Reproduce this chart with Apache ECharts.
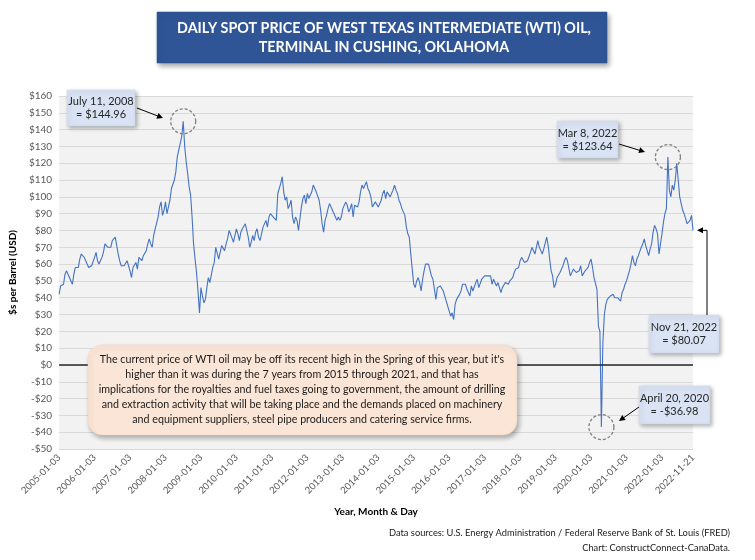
<!DOCTYPE html>
<html>
<head>
<meta charset="utf-8">
<script src="https://cdn.jsdelivr.net/npm/echarts@6/dist/echarts.min.js"></script>
<style>
  html, body { margin: 0; padding: 0; background: #ffffff; }
  #chart { width: 755px; height: 560px; }
</style>
</head>
<body>
<div id="chart"></div>
<script>
// ---- Data: semi-monthly WTI spot readings (USD/bbl), two per month ----
const wti2005 = [42,47, 47,48, 54,56, 57,52, 50,48, 54,58, 59,58, 63,66, 67,64, 62,62, 58,57, 59,60];
const wti2006 = [64,67, 62,60, 62,64, 67,72, 72,70, 71,70, 74,75, 76,71, 66,62, 59,58, 59,59, 62,62];
const wti2007 = [56,52, 58,59, 61,57, 64,63, 62,65, 66,68, 72,75, 72,70, 77,81, 80,88, 94,97, 89,92];
const wti2008 = [97,90, 89,98, 105,104, 110,115, 124,128, 132,136, 144.96,130, 121,114, 106,101, 88,72, 63,55, 44,31];
const wti2009 = [46,41, 37,39, 46,52, 49,49, 58,61, 70,70, 63,62, 71,72, 68,72, 75,80, 78,78, 73,74];
const wti2010 = [81,78, 74,79, 81,82, 84,85, 76,70, 73,77, 74,79, 81,76, 74,75, 82,81, 86,82, 88,90];
const wti2011 = [91,88, 87,86, 102,101, 108,112, 103,98, 100,93, 95,98, 88,84, 88,86, 80,87, 94,99, 101,96];
const wti2012 = [102,99, 98,103, 107,106, 103,104, 98,92, 84,79, 86,89, 93,96, 97,92, 91,88, 86,88, 86,88];
const wti2013 = [93,95, 97,95, 91,93, 96,88, 95,94, 94,97, 103,107, 105,107, 109,105, 103,100, 94,94, 97,98];
const wti2014 = [94,94, 98,102, 104,99, 103,104, 100,102, 104,107, 104,102, 98,96, 93,94, 89,82, 78,76, 66,57];
const wti2015 = [48,46, 50,52, 49,44, 51,56, 60,59, 60,60, 53,51, 45,39, 46,45, 47,46, 44,41, 38,35];
const wti2016 = [34,29, 31,27, 36,39, 38,42, 44,48, 49,48, 45,45, 41,47, 44,43, 49,51, 46,45, 51,52];
const wti2017 = [53,52, 53,54, 53,48, 51,52, 47,49, 46,43, 46,47, 49,48, 48,50, 50,52, 55,57, 57,58];
const wti2018 = [62,64, 64,61, 61,62, 63,67, 70,71, 66,66, 74,70, 68,66, 69,70, 76,71, 63,56, 53,46];
const wti2019 = [48,52, 53,55, 56,59, 62,64, 62,62, 53,52, 57,56, 55,55, 56,59, 53,54, 56,57, 58,61];
const wti2020 = [63,58, 52,52, 45,23, 20,-36.98, 13,30, 36,39, 40,41, 41,42, 40,41, 40,40, 38,43, 45,48];
const wti2021 = [50,53, 56,60, 65,61, 59,63, 65,66, 70,72, 75,71, 68,65, 69,72, 79,83, 81,78, 66,72];
const wti2022 = [78,85, 90,93, 123.64,104, 100,107, 104,110, 120,110, 100,96, 92,90, 87,84, 83,86, 89,80.07];

const firstYear = 2005;
const lastYear = 2022;
const lastMonth = 11;
const halfDays = ['03', '17'];
// actual dates for the annotated readings
const specialDates = {
  '2008-07-03': '2008-07-11',
  '2020-04-17': '2020-04-20',
  '2022-03-03': '2022-03-08',
  '2022-11-17': '2022-11-21'
};

const yTickMin = -50, yTickMax = 160, yTickStep = 10;

// ---- Build categories / values ----
const categories = [];
for (let y = firstYear; y <= lastYear; y++) {
  const mMax = (y === lastYear) ? lastMonth : 12;
  for (let m = 1; m <= mMax; m++) {
    halfDays.forEach(d => {
      let s = y + '-' + String(m).padStart(2, '0') + '-' + d;
      if (specialDates[s]) s = specialDates[s];
      categories.push(s);
    });
  }
}
const values = [].concat(wti2005, wti2006, wti2007, wti2008, wti2009, wti2010, wti2011, wti2012,
  wti2013, wti2014, wti2015, wti2016, wti2017, wti2018, wti2019, wti2020, wti2021, wti2022);
const lastIdx = categories.length - 1;

const FONT = 'Lato, "Open Sans", sans-serif';
const chart = echarts.init(document.getElementById('chart'), null, { renderer: 'canvas' });

chart.setOption({
  backgroundColor: '#ffffff',
  animation: false,
  grid: {
    left: 57, right: 62, top: 96, bottom: 111,
    show: true, backgroundColor: '#f2f2f2', borderWidth: 0
  },
  xAxis: {
    type: 'category',
    data: categories,
    boundaryGap: false,
    axisLine: { show: false },
    axisTick: { show: false },
    splitLine: { show: false },
    axisLabel: {
      rotate: 45,
      fontSize: 9.5,
      color: '#595959',
      fontFamily: FONT,
      margin: 7,
      interval: (i, v) => v.endsWith('-01-03') || i === lastIdx
    },
    name: 'Year, Month & Day',
    nameLocation: 'middle',
    nameGap: 58,
    nameTextStyle: { fontSize: 10, fontWeight: 'bold', color: '#000', fontFamily: FONT }
  },
  yAxis: {
    type: 'value',
    min: yTickMin, max: yTickMax, interval: yTickStep,
    axisLine: { show: false },
    axisTick: { show: false },
    splitLine: { lineStyle: { color: '#d9d9d9', width: 1 } },
    axisLabel: {
      fontSize: 10, color: '#595959', fontFamily: FONT, margin: 7,
      formatter: v => (v < 0 ? '-$' + (-v) : '$' + v)
    },
    name: '$s per Barrel (USD)',
    nameLocation: 'middle',
    nameRotate: 90,
    nameGap: 32,
    nameTextStyle: { fontSize: 10, fontWeight: 'bold', color: '#000', fontFamily: FONT }
  },
  series: [{
    type: 'line',
    data: values,
    showSymbol: false,
    symbol: 'none',
    lineStyle: { color: '#4472c4', width: 1.1 },
    markLine: {
      silent: true,
      symbol: 'none',
      label: { show: false },
      lineStyle: { color: '#262626', width: 1.6, type: 'solid' },
      data: [{ yAxis: 0 }]
    }
  }]
});

// ---- Annotations ----
function arrowEls(x1, y1, x2, y2) {
  const a = Math.atan2(y2 - y1, x2 - x1);
  const L = 6, W = 3;
  const c = Math.cos(a), s = Math.sin(a);
  return [
    { type: 'line', shape: { x1: x1, y1: y1, x2: x2 - L * c * 0.8, y2: y2 - L * s * 0.8 },
      style: { stroke: '#000', lineWidth: 1 }, z: 100 },
    { type: 'polygon', shape: { points: [[x2, y2], [x2 - L * c + W * s, y2 - L * s - W * c], [x2 - L * c - W * s, y2 - L * s + W * c]] },
      style: { fill: '#000' }, z: 100 }
  ];
}
function callout(x, y, w, h, text) {
  return [
    { type: 'rect', shape: { x: x, y: y, width: w, height: h },
      style: { fill: '#dae3f3', stroke: '#c9d5ea', lineWidth: 0.5,
        shadowBlur: 4, shadowOffsetX: 2, shadowOffsetY: 2, shadowColor: 'rgba(0,0,0,0.3)' }, z: 100 },
    { type: 'text', x: x + w / 2, y: y + h / 2,
      style: { text: text, fill: '#262626', font: '11px ' + FONT, align: 'center', verticalAlign: 'middle', lineHeight: 13 }, z: 101 }
  ];
}
function circleAt(date, val) {
  const p = chart.convertToPixel({ seriesIndex: 0 }, [categories.indexOf(date), val]);
  return { type: 'circle', shape: { cx: p[0], cy: p[1], r: 12.5 },
    style: { fill: 'none', stroke: '#7f7f7f', lineWidth: 1.3, lineDash: [3, 2] }, z: 100 };
}

const noteText = "The current price of WTI oil may be off its recent high in the Spring of this year, but it's\n" +
  "higher than it was during the 7 years from 2015 through 2021, and that has\n" +
  "implications for the royalties and fuel taxes going to government, the amount of drilling\n" +
  "and extraction activity that will be taking place and the demands placed on machinery\n" +
  "and equipment suppliers, steel pipe producers and catering service firms.";

const els = [];
// title
els.push({ type: 'rect', shape: { x: 157, y: 12, width: 450, height: 51 },
  style: { fill: '#2f5597', stroke: '#2a4c88', lineWidth: 0.5, shadowBlur: 5, shadowOffsetX: 2, shadowOffsetY: 3, shadowColor: 'rgba(0,0,0,0.35)' }, z: 100 });
els.push({ type: 'text', x: 384, y: 37.5,
  style: { text: 'DAILY SPOT PRICE OF WEST TEXAS INTERMEDIATE (WTI) OIL,\nTERMINAL IN CUSHING, OKLAHOMA',
    fill: '#ffffff', font: 'bold 14.3px ' + FONT, align: 'center', verticalAlign: 'middle', lineHeight: 19 }, z: 101 });

// note box
els.push({ type: 'rect', shape: { x: 88, y: 345, width: 429, height: 90, r: 14 },
  style: { fill: '#fbe5d6', stroke: '#f4d3bd', lineWidth: 0.5, shadowBlur: 5, shadowOffsetX: 2, shadowOffsetY: 3, shadowColor: 'rgba(0,0,0,0.3)' }, z: 100 });
els.push({ type: 'text', x: 302, y: 390,
  style: { text: noteText, fill: '#1a1a1a', font: '10.7px ' + FONT, align: 'center', verticalAlign: 'middle', lineHeight: 15 }, z: 101 });

// callouts
els.push(...callout(67, 90, 68, 36, 'July 11, 2008\n= $144.96'));
els.push(...callout(557, 121, 61, 37, 'Mar 8, 2022\n= $123.64'));
els.push(...callout(649, 315, 70, 38, 'Nov 21, 2022\n= $80.07'));
els.push(...callout(639, 386, 71, 38, 'April 20, 2020\n= -$36.98'));

// arrows
els.push(...arrowEls(137, 108, 163, 118));
els.push(...arrowEls(619, 144, 645, 152));
els.push(...arrowEls(639, 407, 619, 421));
const endPt = chart.convertToPixel({ seriesIndex: 0 }, [lastIdx, values[lastIdx]]);
els.push({ type: 'polyline', shape: { points: [[707, 315], [707, endPt[1]], [702, endPt[1]]] },
  style: { stroke: '#000', lineWidth: 1, fill: 'none' }, z: 100 });
els.push({ type: 'polygon', shape: { points: [[697, endPt[1]], [703, endPt[1] - 3], [703, endPt[1] + 3]] },
  style: { fill: '#000' }, z: 100 });

// circles
els.push(circleAt('2008-07-11', 144.96));
els.push(circleAt('2022-03-08', 123.64));
els.push(circleAt('2020-04-20', -36.98));

// footer
els.push({ type: 'text', x: 730, y: 533,
  style: { text: 'Data sources: U.S. Energy Administration / Federal Reserve Bank of St. Louis (FRED)', fill: '#1a1a1a', font: '9.3px ' + FONT, align: 'right', verticalAlign: 'middle' } });
els.push({ type: 'text', x: 730, y: 548,
  style: { text: 'Chart: ConstructConnect-CanaData.', fill: '#1a1a1a', font: '9.3px ' + FONT, align: 'right', verticalAlign: 'middle' } });

chart.setOption({ graphic: { elements: els } });
</script>
</body>
</html>
